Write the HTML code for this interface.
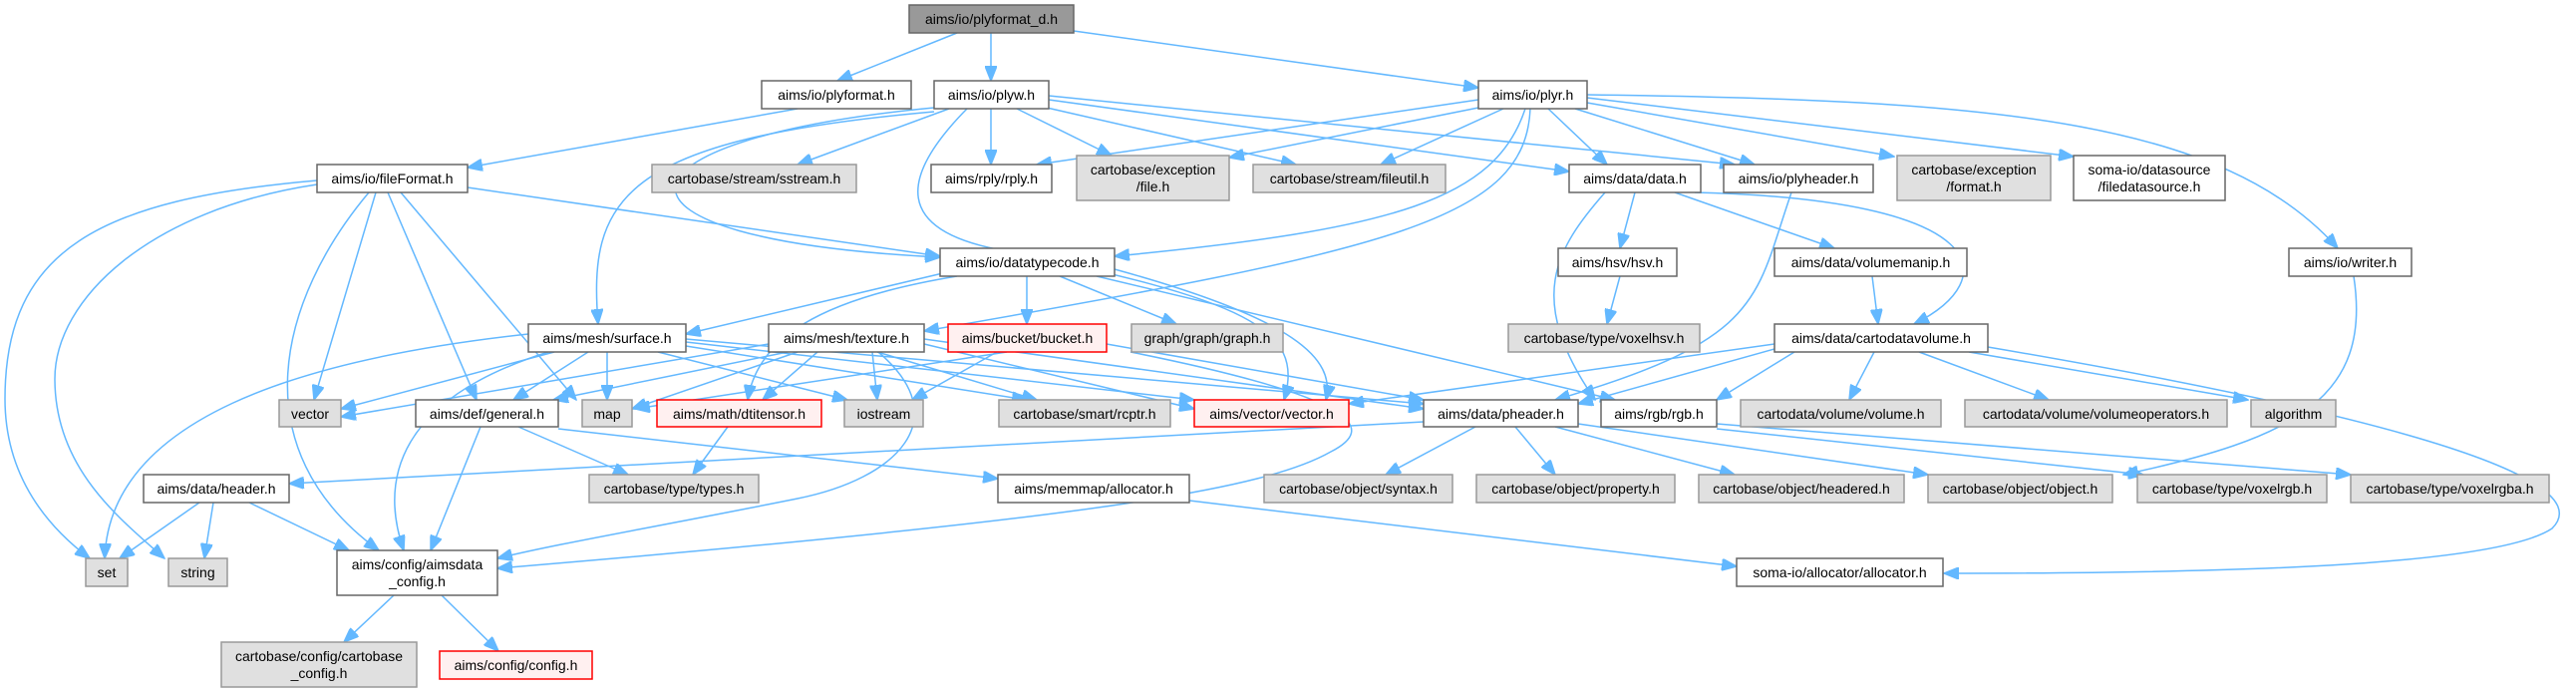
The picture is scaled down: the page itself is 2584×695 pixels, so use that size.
<!DOCTYPE html>
<html><head><meta charset="utf-8"><style>
html,body{margin:0;padding:0;background:#fff;}
svg{display:block;}
text{font-family:"Liberation Sans",sans-serif;font-size:14px;fill:#000;text-anchor:middle;}
.w{fill:#fff;stroke:#666;stroke-width:1.5;}
.g{fill:#e0e0e0;stroke:#999;stroke-width:1.5;}
.r{fill:#fff0f0;stroke:#f00;stroke-width:1.5;}
.root{fill:#999;stroke:#666;stroke-width:1.5;}
path{fill:none;stroke:#63b8ff;stroke-width:1.5;}
</style></head><body>
<svg width="2584" height="695" viewBox="0 0 2584 695" xmlns="http://www.w3.org/2000/svg">
<defs><marker id="a" markerUnits="userSpaceOnUse" markerWidth="16" markerHeight="12" refX="15" refY="6" orient="auto"><path d="M0,0 L15,6 L0,12 Z" style="fill:#63b8ff;stroke:#63b8ff"/></marker></defs>
<g marker-end="url(#a)">
<path d="M960,33 L840,81"/>
<path d="M994,33 L994,81"/>
<path d="M1077,31 L1483,88"/>
<path d="M800,109 L469,168"/>
<path d="M952,109 L800,165"/>
<path d="M994,109 L994,165"/>
<path d="M1020,109 L1115,156"/>
<path d="M1050,108 L1300,165"/>
<path d="M1052,100 L1574,172"/>
<path d="M937,108 C600,140 580,240 943,258"/>
<path d="M937,112 C620,140 590,200 600,325"/>
<path d="M970,109 C900,180 900,230 1000,250 C1250,300 1310,330 1288,401"/>
<path d="M1052,96 L1740,165"/>
<path d="M1483,100 L1040,165"/>
<path d="M1483,108 L1233,158"/>
<path d="M1508,109 L1385,165"/>
<path d="M1553,109 L1612,165"/>
<path d="M1580,109 L1760,165"/>
<path d="M1592,103 L1900,157"/>
<path d="M1592,98 L2080,157"/>
<path d="M1592,95 C2000,100 2230,120 2345,249"/>
<path d="M1530,109 C1500,200 1400,230 1118,257"/>
<path d="M1535,109 C1530,220 1400,250 927,332"/>
<path d="M318,181 C100,200 5,250 5,400 C5,480 50,530 90,560"/>
<path d="M318,185 C150,210 55,300 55,380 C55,470 120,520 165,560"/>
<path d="M377,193 L315,401"/>
<path d="M389,193 L478,401"/>
<path d="M402,193 L578,401"/>
<path d="M370,193 C280,300 240,450 380,552"/>
<path d="M469,188 L943,257"/>
<path d="M950,273 L688,335"/>
<path d="M1030,277 L1030,325"/>
<path d="M1063,277 L1180,325"/>
<path d="M960,277 C820,300 760,340 750,401"/>
<path d="M1118,270 C1300,320 1340,360 1330,401"/>
<path d="M1100,277 L1620,401"/>
<path d="M1640,193 L1625,249"/>
<path d="M1680,193 L1840,249"/>
<path d="M1700,193 C2000,200 2010,280 1920,325"/>
<path d="M1610,193 C1560,250 1530,300 1600,401"/>
<path d="M1625,277 L1612,325"/>
<path d="M1878,277 L1884,325"/>
<path d="M1797,193 C1760,300 1770,340 1560,401"/>
<path d="M2361,277 C2380,400 2300,440 2130,476"/>
<path d="M1880,353 L1855,401"/>
<path d="M1925,353 L2055,401"/>
<path d="M1975,353 L2255,401"/>
<path d="M1994,348 C2300,400 2620,470 2560,530 C2500,570 2200,575 1950,575"/>
<path d="M1780,350 L1583,405"/>
<path d="M1800,353 L1722,401"/>
<path d="M1780,345 L1353,405"/>
<path d="M530,335 C300,360 110,420 105,560"/>
<path d="M556,353 L342,410"/>
<path d="M590,353 L515,401"/>
<path d="M609,353 L609,401"/>
<path d="M660,353 L850,401"/>
<path d="M688,347 L1030,401"/>
<path d="M688,343 L1198,401"/>
<path d="M688,340 L1428,405"/>
<path d="M550,353 C400,400 380,480 405,552"/>
<path d="M771,345 L342,418"/>
<path d="M790,353 L555,401"/>
<path d="M800,353 L634,410"/>
<path d="M820,353 L765,401"/>
<path d="M875,353 L880,401"/>
<path d="M880,353 L1040,401"/>
<path d="M927,345 L1198,410"/>
<path d="M927,340 L1428,410"/>
<path d="M881,353 C960,420 900,480 800,500 C650,530 560,545 499,560"/>
<path d="M1000,353 L915,401"/>
<path d="M1110,345 L1428,401"/>
<path d="M1010,353 L637,410"/>
<path d="M1134,353 C1368,400 1380,430 1335,453 C1270,490 1100,520 499,570"/>
<path d="M1428,423 L290,485"/>
<path d="M520,428 L630,476"/>
<path d="M482,428 L432,552"/>
<path d="M560,430 L1001,480"/>
<path d="M730,428 L695,476"/>
<path d="M1480,428 L1390,476"/>
<path d="M1520,428 L1560,476"/>
<path d="M1560,428 L1740,476"/>
<path d="M1583,425 L1934,476"/>
<path d="M1722,430 L2150,476"/>
<path d="M1722,425 L2358,476"/>
<path d="M200,504 L120,560"/>
<path d="M214,504 L205,560"/>
<path d="M250,504 L350,552"/>
<path d="M395,597 L345,644"/>
<path d="M443,597 L500,653"/>
<path d="M1193,502 L1742,568"/>
</g>
<g>
<rect class="root" x="912" y="5" width="165" height="28"/><text x="994.5" y="24">aims/io/plyformat_d.h</text>
<rect class="w" x="764" y="81" width="150" height="28"/><text x="839" y="100">aims/io/plyformat.h</text>
<rect class="w" x="937" y="81" width="115" height="28"/><text x="994.5" y="100">aims/io/plyw.h</text>
<rect class="w" x="1483" y="81" width="109" height="28"/><text x="1537.5" y="100">aims/io/plyr.h</text>
<rect class="w" x="318" y="165" width="151" height="28"/><text x="393.5" y="184">aims/io/fileFormat.h</text>
<rect class="g" x="654" y="165" width="205" height="28"/><text x="756.5" y="184">cartobase/stream/sstream.h</text>
<rect class="w" x="934" y="165" width="121" height="28"/><text x="994.5" y="184">aims/rply/rply.h</text>
<rect class="g" x="1080" y="156" width="153" height="45"/><text x="1156.5" y="175">cartobase/exception</text><text x="1156.5" y="192">/file.h</text>
<rect class="g" x="1257" y="165" width="193" height="28"/><text x="1353.5" y="184">cartobase/stream/fileutil.h</text>
<rect class="w" x="1574" y="165" width="132" height="28"/><text x="1640" y="184">aims/data/data.h</text>
<rect class="w" x="1729" y="165" width="150" height="28"/><text x="1804" y="184">aims/io/plyheader.h</text>
<rect class="g" x="1903" y="156" width="154" height="45"/><text x="1980" y="175">cartobase/exception</text><text x="1980" y="192">/format.h</text>
<rect class="w" x="2080" y="156" width="152" height="45"/><text x="2156" y="175">soma-io/datasource</text><text x="2156" y="192">/filedatasource.h</text>
<rect class="w" x="943" y="249" width="175" height="28"/><text x="1030.5" y="268">aims/io/datatypecode.h</text>
<rect class="w" x="1563" y="249" width="119" height="28"/><text x="1622.5" y="268">aims/hsv/hsv.h</text>
<rect class="w" x="1780" y="249" width="193" height="28"/><text x="1876.5" y="268">aims/data/volumemanip.h</text>
<rect class="w" x="2296" y="249" width="123" height="28"/><text x="2357.5" y="268">aims/io/writer.h</text>
<rect class="w" x="530" y="325" width="158" height="28"/><text x="609" y="344">aims/mesh/surface.h</text>
<rect class="w" x="771" y="325" width="156" height="28"/><text x="849" y="344">aims/mesh/texture.h</text>
<rect class="r" x="951" y="325" width="159" height="28"/><text x="1030.5" y="344">aims/bucket/bucket.h</text>
<rect class="g" x="1135" y="325" width="152" height="28"/><text x="1211" y="344">graph/graph/graph.h</text>
<rect class="g" x="1513" y="325" width="192" height="28"/><text x="1609" y="344">cartobase/type/voxelhsv.h</text>
<rect class="w" x="1780" y="325" width="214" height="28"/><text x="1887" y="344">aims/data/cartodatavolume.h</text>
<rect class="g" x="280" y="401" width="62" height="27"/><text x="311" y="420">vector</text>
<rect class="w" x="417" y="401" width="143" height="27"/><text x="488.5" y="420">aims/def/general.h</text>
<rect class="g" x="584" y="401" width="50" height="27"/><text x="609" y="420">map</text>
<rect class="r" x="659" y="401" width="165" height="27"/><text x="741.5" y="420">aims/math/dtitensor.h</text>
<rect class="g" x="847" y="401" width="79" height="27"/><text x="886.5" y="420">iostream</text>
<rect class="g" x="1002" y="401" width="172" height="27"/><text x="1088" y="420">cartobase/smart/rcptr.h</text>
<rect class="r" x="1198" y="401" width="155" height="27"/><text x="1275.5" y="420">aims/vector/vector.h</text>
<rect class="w" x="1428" y="401" width="155" height="27"/><text x="1505.5" y="420">aims/data/pheader.h</text>
<rect class="w" x="1606" y="401" width="116" height="27"/><text x="1664" y="420">aims/rgb/rgb.h</text>
<rect class="g" x="1746" y="401" width="201" height="27"/><text x="1846.5" y="420">cartodata/volume/volume.h</text>
<rect class="g" x="1971" y="401" width="263" height="27"/><text x="2102.5" y="420">cartodata/volume/volumeoperators.h</text>
<rect class="g" x="2258" y="401" width="85" height="27"/><text x="2300.5" y="420">algorithm</text>
<rect class="w" x="144" y="476" width="146" height="28"/><text x="217" y="495">aims/data/header.h</text>
<rect class="g" x="591" y="476" width="170" height="28"/><text x="676" y="495">cartobase/type/types.h</text>
<rect class="w" x="1001" y="476" width="192" height="28"/><text x="1097" y="495">aims/memmap/allocator.h</text>
<rect class="g" x="1268" y="476" width="189" height="28"/><text x="1362.5" y="495">cartobase/object/syntax.h</text>
<rect class="g" x="1481" y="476" width="199" height="28"/><text x="1580.5" y="495">cartobase/object/property.h</text>
<rect class="g" x="1704" y="476" width="206" height="28"/><text x="1807" y="495">cartobase/object/headered.h</text>
<rect class="g" x="1934" y="476" width="185" height="28"/><text x="2026.5" y="495">cartobase/object/object.h</text>
<rect class="g" x="2144" y="476" width="190" height="28"/><text x="2239" y="495">cartobase/type/voxelrgb.h</text>
<rect class="g" x="2358" y="476" width="199" height="28"/><text x="2457.5" y="495">cartobase/type/voxelrgba.h</text>
<rect class="g" x="86" y="560" width="42" height="28"/><text x="107" y="579">set</text>
<rect class="g" x="169" y="560" width="59" height="28"/><text x="198.5" y="579">string</text>
<rect class="w" x="338" y="552" width="161" height="45"/><text x="418.5" y="571">aims/config/aimsdata</text><text x="418.5" y="588">_config.h</text>
<rect class="w" x="1742" y="560" width="207" height="28"/><text x="1845.5" y="579">soma-io/allocator/allocator.h</text>
<rect class="g" x="222" y="644" width="196" height="45"/><text x="320" y="663">cartobase/config/cartobase</text><text x="320" y="680">_config.h</text>
<rect class="r" x="441" y="653" width="153" height="28"/><text x="517.5" y="672">aims/config/config.h</text>
</g>
</svg>
</body></html>
